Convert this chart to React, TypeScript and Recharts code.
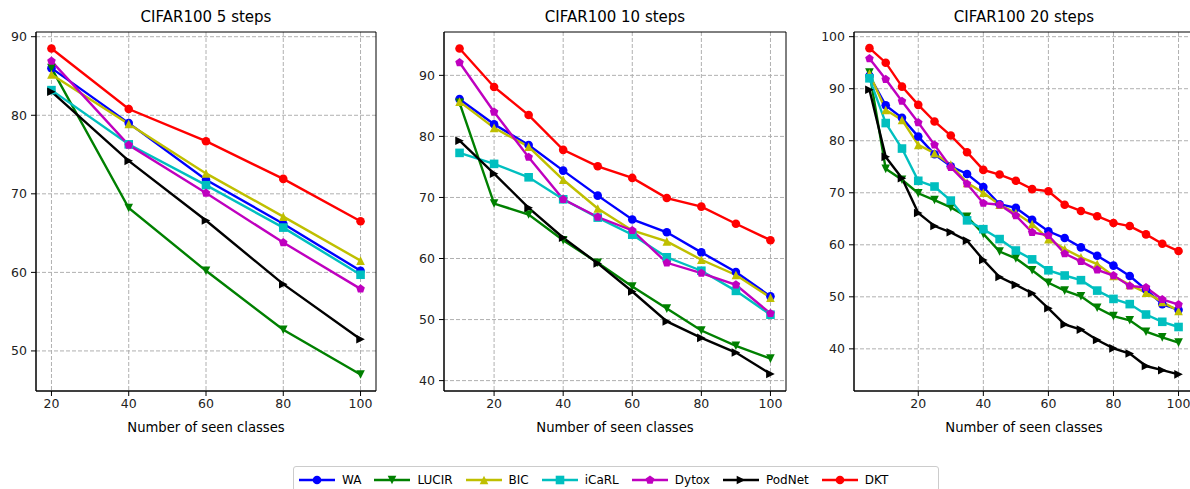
import React from "react";
import { LineChart, Line, XAxis, YAxis, CartesianGrid, ReferenceArea } from "recharts";

// seen classes per task split
const x5 = [20, 40, 60, 80, 100];
const x10 = [10, 20, 30, 40, 50, 60, 70, 80, 90, 100];
const x20 = [5, 10, 15, 20, 25, 30, 35, 40, 45, 50, 55, 60, 65, 70, 75, 80, 85, 90, 95, 100];

// CIFAR100 5 steps
const wa5 = [86.0, 79.0, 71.8, 66.2, 60.2];
const lucir5 = [86.0, 68.2, 60.2, 52.7, 47.0];
const bic5 = [85.2, 78.9, 72.6, 67.1, 61.5];
const icarl5 = [83.2, 76.3, 71.1, 65.7, 59.7];
const dytox5 = [86.9, 76.2, 70.1, 63.8, 57.9];
const podnet5 = [83.0, 74.2, 66.6, 58.5, 51.5];
const dkt5 = [88.5, 80.8, 76.7, 71.9, 66.5];

// CIFAR100 10 steps
const wa10 = [86.1, 82.0, 78.6, 74.4, 70.3, 66.4, 64.3, 61.0, 57.8, 53.8];
const lucir10 = [85.5, 69.0, 67.2, 63.0, 59.3, 55.4, 51.8, 48.2, 45.7, 43.6];
const bic10 = [85.7, 81.4, 78.3, 72.9, 68.2, 64.6, 62.8, 59.8, 57.3, 53.6];
const icarl10 = [77.3, 75.5, 73.3, 69.7, 66.7, 63.9, 60.2, 58.0, 54.7, 50.8];
const dytox10 = [92.1, 84.0, 76.6, 69.7, 66.8, 64.6, 59.3, 57.6, 55.7, 51.0];
const podnet10 = [79.3, 73.9, 68.3, 63.4, 59.2, 54.6, 49.7, 47.0, 44.6, 41.1];
const dkt10 = [94.4, 88.1, 83.5, 77.8, 75.1, 73.2, 69.9, 68.5, 65.7, 63.0];

// CIFAR100 20 steps
const wa20 = [92.5, 86.8, 84.4, 80.8, 77.4, 75.1, 73.6, 71.1, 67.8, 67.1, 64.8, 62.6, 61.3, 59.5, 57.9, 56.0, 54.0, 51.4, 48.6, 47.5];
const lucir20 = [93.1, 74.6, 72.5, 69.9, 68.6, 67.2, 65.4, 62.1, 58.7, 57.4, 55.1, 52.7, 51.2, 50.1, 47.9, 46.3, 45.5, 43.3, 42.2, 41.2];
const bic20 = [92.9, 85.9, 84.0, 79.2, 77.6, 75.4, 71.9, 70.0, 67.7, 66.1, 64.0, 61.1, 59.2, 57.6, 56.3, 54.0, 52.3, 50.8, 49.0, 47.3];
const icarl20 = [92.0, 83.4, 78.5, 72.3, 71.2, 68.5, 64.7, 63.0, 61.1, 58.9, 57.2, 55.1, 54.1, 53.2, 51.2, 49.6, 48.6, 46.6, 45.2, 44.2];
const dytox20 = [95.8, 91.8, 87.6, 83.5, 79.2, 74.9, 71.7, 68.0, 67.7, 65.6, 62.4, 61.8, 58.3, 56.8, 55.2, 54.1, 52.1, 51.8, 49.5, 48.5];
const podnet20 = [89.8, 76.9, 72.8, 66.1, 63.6, 62.4, 60.8, 57.1, 53.8, 52.3, 50.7, 47.8, 44.7, 43.7, 41.7, 40.1, 39.1, 36.7, 35.9, 35.1];
const dkt20 = [97.8, 95.0, 90.4, 86.9, 83.7, 81.0, 77.8, 74.4, 73.5, 72.3, 70.7, 70.3, 67.7, 66.5, 65.5, 64.2, 63.6, 62.0, 60.2, 58.8];

const methods = ["WA", "LUCIR", "BIC", "iCaRL", "Dytox", "PodNet", "DKT"];
const xTicks = [20, 40, 60, 80, 100];

type Kind = "o" | "v" | "^" | "s" | "p" | ">";

const styles: Record<string, { color: string; marker: Kind }> = {
  WA: { color: "#0000ff", marker: "o" },
  LUCIR: { color: "#008000", marker: "v" },
  BIC: { color: "#bfbf00", marker: "^" },
  iCaRL: { color: "#00bfbf", marker: "s" },
  Dytox: { color: "#bf00bf", marker: "p" },
  PodNet: { color: "#000000", marker: ">" },
  DKT: { color: "#ff0000", marker: "o" },
};

const FONT = "'DejaVu Sans', sans-serif";
const R = 4.3;

function Marker({ kind, cx, cy, color }: { kind: Kind; cx: number; cy: number; color: string }) {
  const r = R;
  if (kind === "o") return <circle cx={cx} cy={cy} r={r} fill={color} />;
  if (kind === "s") return <rect x={cx - r} y={cy - r} width={2 * r} height={2 * r} fill={color} />;
  let pts: number[][] = [];
  if (kind === "v") pts = [[cx, cy + r], [cx - r, cy - r], [cx + r, cy - r]];
  if (kind === "^") pts = [[cx, cy - r], [cx - r, cy + r], [cx + r, cy + r]];
  if (kind === ">") pts = [[cx + r, cy], [cx - r, cy - r], [cx - r, cy + r]];
  if (kind === "p") {
    for (let k = 0; k < 5; k++) {
      const a = (-90 + 72 * k) * (Math.PI / 180);
      pts.push([cx + r * 1.05 * Math.cos(a), cy + r * 1.05 * Math.sin(a)]);
    }
  }
  return <polygon points={pts.map((p) => p.join(",")).join(" ")} fill={color} />;
}

interface PanelProps {
  title: string;
  xs: number[];
  series: number[][];
  xDomain: [number, number];
  yDomain: [number, number];
  yTicks: number[];
  plotLeft: number;
  plotWidth: number;
}

function Panel({ title, xs, series, xDomain, yDomain, yTicks, plotLeft, plotWidth }: PanelProps) {
  const rows = xs.map((x, i) => {
    const row: Record<string, number> = { x };
    methods.forEach((m, j) => (row[m] = series[j][i]));
    return row;
  });
  const axisW = 50;
  const tick = { fill: "#222", fontSize: 12.5, fontFamily: FONT };
  return (
    <>
      <div
        style={{
          position: "absolute", left: plotLeft, top: 8, width: plotWidth, textAlign: "center",
          fontFamily: FONT, fontSize: 15, lineHeight: "18px", color: "#000",
        }}
      >
        {title}
      </div>
      <div style={{ position: "absolute", left: plotLeft - axisW, top: 0 }}>
        <LineChart width={axisW + plotWidth + 10} height={440} data={rows} margin={{ top: 32, right: 10, bottom: 0, left: 0 }}>
          <CartesianGrid stroke="#b0b0b0" strokeDasharray="4 2" horizontalValues={yTicks} verticalValues={xTicks} />
          <XAxis
            dataKey="x" type="number" domain={xDomain} ticks={xTicks} allowDataOverflow height={49}
            tick={tick} tickSize={5} tickMargin={3} stroke="#000" tickLine={{ stroke: "#000" }}
          />
          <YAxis
            type="number" domain={yDomain} ticks={yTicks} allowDataOverflow width={axisW}
            tick={tick} tickSize={5} tickMargin={4} stroke="#000" tickLine={{ stroke: "#000" }}
          />
          <ReferenceArea x1={xDomain[0]} x2={xDomain[1]} y1={yDomain[0]} y2={yDomain[1]} fill="none" fillOpacity={0} stroke="#000" strokeWidth={1} strokeOpacity={1} />
          {methods.map((m) => (
            <Line
              key={m} dataKey={m} type="linear" stroke={styles[m].color} strokeWidth={2.4}
              isAnimationActive={false}
              dot={(p: any) => <Marker key={`${m}-${p.index}`} kind={styles[m].marker} cx={p.cx} cy={p.cy} color={styles[m].color} />}
              activeDot={false}
            />
          ))}
        </LineChart>
      </div>
      <div
        style={{
          position: "absolute", left: plotLeft, top: 420, width: plotWidth, textAlign: "center",
          fontFamily: FONT, fontSize: 13.2, lineHeight: "16px", color: "#000",
        }}
      >
        Number of seen classes
      </div>
    </>
  );
}

function LegendBox() {
  return (
    <div
      style={{
        position: "absolute", left: 293, top: 466, width: 646, height: 28, boxSizing: "border-box",
        border: "1px solid #cccccc", borderRadius: 3, display: "flex", alignItems: "center",
        paddingLeft: 5, fontFamily: FONT, fontSize: 12, color: "#000", background: "#fff",
      }}
    >
      {methods.map((m) => (
        <div key={m} style={{ display: "flex", alignItems: "center", marginRight: 13 }}>
          <svg width={36} height={14} style={{ marginRight: 7 }}>
            <line x1={0} y1={7} x2={36} y2={7} stroke={styles[m].color} strokeWidth={2.4} />
            <Marker kind={styles[m].marker} cx={18} cy={7} color={styles[m].color} />
          </svg>
          <span>{m}</span>
        </div>
      ))}
    </div>
  );
}

export default function App() {
  return (
    <div style={{ position: "absolute", left: 0, top: 0, width: 1190, height: 489, overflow: "hidden", background: "#fff" }}>
      <Panel
        title="CIFAR100 5 steps" xs={x5}
        series={[wa5, lucir5, bic5, icarl5, dytox5, podnet5, dkt5]}
        xDomain={[16, 104]} yDomain={[44.9, 90.6]} yTicks={[50, 60, 70, 80, 90]}
        plotLeft={36} plotWidth={340}
      />
      <Panel
        title="CIFAR100 10 steps" xs={x10}
        series={[wa10, lucir10, bic10, icarl10, dytox10, podnet10, dkt10]}
        xDomain={[5.5, 104.5]} yDomain={[38.3, 97.1]} yTicks={[40, 50, 60, 70, 80, 90]}
        plotLeft={444} plotWidth={342}
      />
      <Panel
        title="CIFAR100 20 steps" xs={x20}
        series={[wa20, lucir20, bic20, icarl20, dytox20, podnet20, dkt20]}
        xDomain={[0.25, 104.75]} yDomain={[31.9, 100.9]} yTicks={[40, 50, 60, 70, 80, 90, 100]}
        plotLeft={854} plotWidth={340}
      />
      <LegendBox />
    </div>
  );
}
